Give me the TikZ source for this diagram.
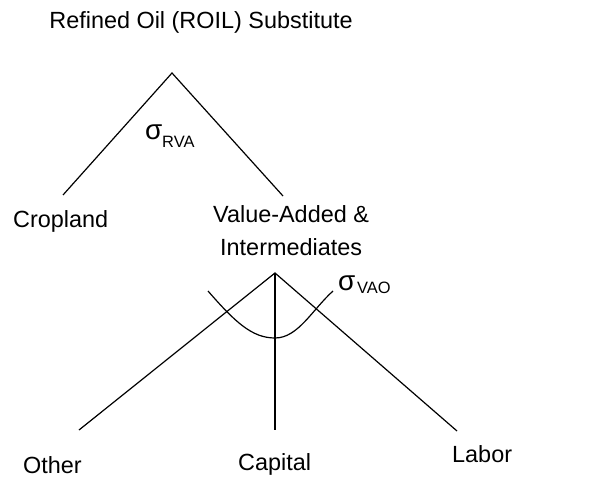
\documentclass[tikz,border=0pt]{standalone}
\usepackage{fontspec}
\setmainfont{Liberation Sans}
\begin{document}
\begin{tikzpicture}[x=1bp,y=-1bp,
  lbl/.style={anchor=base west,inner sep=0pt,font=\fontsize{23.5}{27}\selectfont},
  sig/.style={anchor=base west,inner sep=0pt,font=\fontsize{28}{30}\selectfont},
  sub/.style={anchor=base west,inner sep=0pt,font=\fontsize{16.5}{18}\selectfont},
  br/.style={draw=black,line width=1.2bp}]
\useasboundingbox (0,0) rectangle (596,478);
% labels
\node[anchor=base,inner sep=0pt,font=\fontsize{23.5}{27}\selectfont] (title) at (201,29) {Refined Oil (ROIL) Substitute};
\node[sig] (s1) at (145,140) {σ};
\node[sub] (s1s) at (162,148) {RVA};
\node[lbl] (crop) at (13,228) {Cropland};
\node[lbl] (va1) at (213,223) {Value-Added \&};
\node[lbl] (va2) at (220,255) {Intermediates};
\node[sig] (s2) at (338,290) {σ};
\node[sub] (s2s) at (357,293) {VAO};
\node[lbl] (oth) at (23,473) {Other};
\node[lbl] (cap) at (238,470) {Capital};
\node[lbl] (lab) at (452,462) {Labor};
% tree
\coordinate (a1) at (172,73);
\coordinate (e1) at (63,195);
\coordinate (e2) at (283,196);
\coordinate (a2) at (275,273);
\coordinate (e3) at (79,430);
\coordinate (e4) at (275,430);
\coordinate (e5) at (457,431);
\coordinate (c1) at (208,291);
\coordinate (c2) at (275,338);
\coordinate (c3) at (333,291);
\draw[br] (e1) -- (a1) -- (e2);
\draw[br] (e3) -- (a2) -- (e5);
\draw[br] (a2) -- (e4);
\draw[br] (c1) .. controls (235,322) and (252,338) .. (c2) .. controls (298,338) and (312,310) .. (c3);
\end{tikzpicture}
\end{document}
